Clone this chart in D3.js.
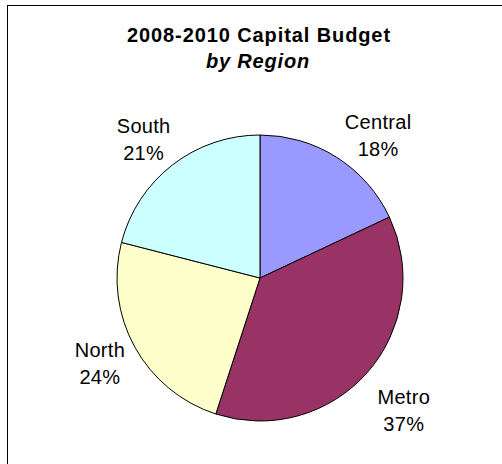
<!DOCTYPE html>
<html>
<head>
<meta charset="utf-8">
<script src="https://cdn.jsdelivr.net/npm/d3@7/dist/d3.min.js"></script>
<style>
  html, body { margin: 0; padding: 0; background: #ffffff; }
  svg { display: block; }
  text { font-family: "Liberation Sans", Arial, sans-serif; fill: #000000; }
</style>
</head>
<body>
<svg id="chart" width="502" height="464"></svg>
<script>
// Capital budget share by region (percent)
const regions = ["Central", "Metro", "North", "South"];
const shares = [18, 37, 24, 21];
const sliceColors = ["#9999FF", "#993366", "#FFFFCC", "#CCFFFF"];
const titleLines = ["2008-2010 Capital Budget", "by Region"];

// Layout
const width = 502, height = 464;
const cx = 260, cy = 278, radius = 143;
const labelRadius = 185;
// small offsets that keep each label clear of the pie edge
const labelNudge = { Central: [19, 14], Metro: [5, 11], North: [2, -3], South: [-3, 8] };

const svg = d3.select("#chart");

// chart frame (only top and left edges fall inside the view)
svg.append("rect")
  .attr("x", 7.5).attr("y", 5.5)
  .attr("width", 600).attr("height", 600)
  .attr("fill", "#ffffff")
  .attr("stroke", "#000000")
  .attr("stroke-width", 1);

// title
svg.append("text")
  .attr("x", 259).attr("y", 42)
  .attr("text-anchor", "middle")
  .style("font-size", "20px").style("font-weight", "bold")
  .style("letter-spacing", "0.9px")
  .text(titleLines[0]);
svg.append("text")
  .attr("x", 258).attr("y", 68)
  .attr("text-anchor", "middle")
  .style("font-size", "20px").style("font-weight", "bold").style("font-style", "italic")
  .style("letter-spacing", "0.8px")
  .text(titleLines[1]);

const data = regions.map((r, i) => ({ region: r, value: shares[i], color: sliceColors[i] }));

const pie = d3.pie().sort(null).value(d => d.value);
const arcs = pie(data);

const arc = d3.arc().innerRadius(0).outerRadius(radius);
const labelArc = d3.arc().innerRadius(labelRadius).outerRadius(labelRadius);

const g = svg.append("g").attr("transform", `translate(${cx},${cy})`);

g.selectAll("path.slice")
  .data(arcs)
  .join("path")
  .attr("class", "slice")
  .attr("d", arc)
  .attr("fill", d => d.data.color)
  .attr("stroke", "#000000")
  .attr("stroke-width", 1)
  .attr("stroke-linejoin", "round");

const labels = g.selectAll("text.label")
  .data(arcs)
  .join("text")
  .attr("class", "label")
  .attr("text-anchor", "middle")
  .style("font-size", "20px")
  .style("letter-spacing", "0.3px")
  .attr("transform", d => {
    const [x, y] = labelArc.centroid(d);
    const [nx, ny] = labelNudge[d.data.region];
    return `translate(${x + nx},${y + ny})`;
  });

labels.append("tspan")
  .attr("x", 0).attr("y", -7)
  .text(d => d.data.region);
labels.append("tspan")
  .attr("x", 0).attr("y", 20)
  .text(d => d.data.value + "%");
</script>
</body>
</html>
